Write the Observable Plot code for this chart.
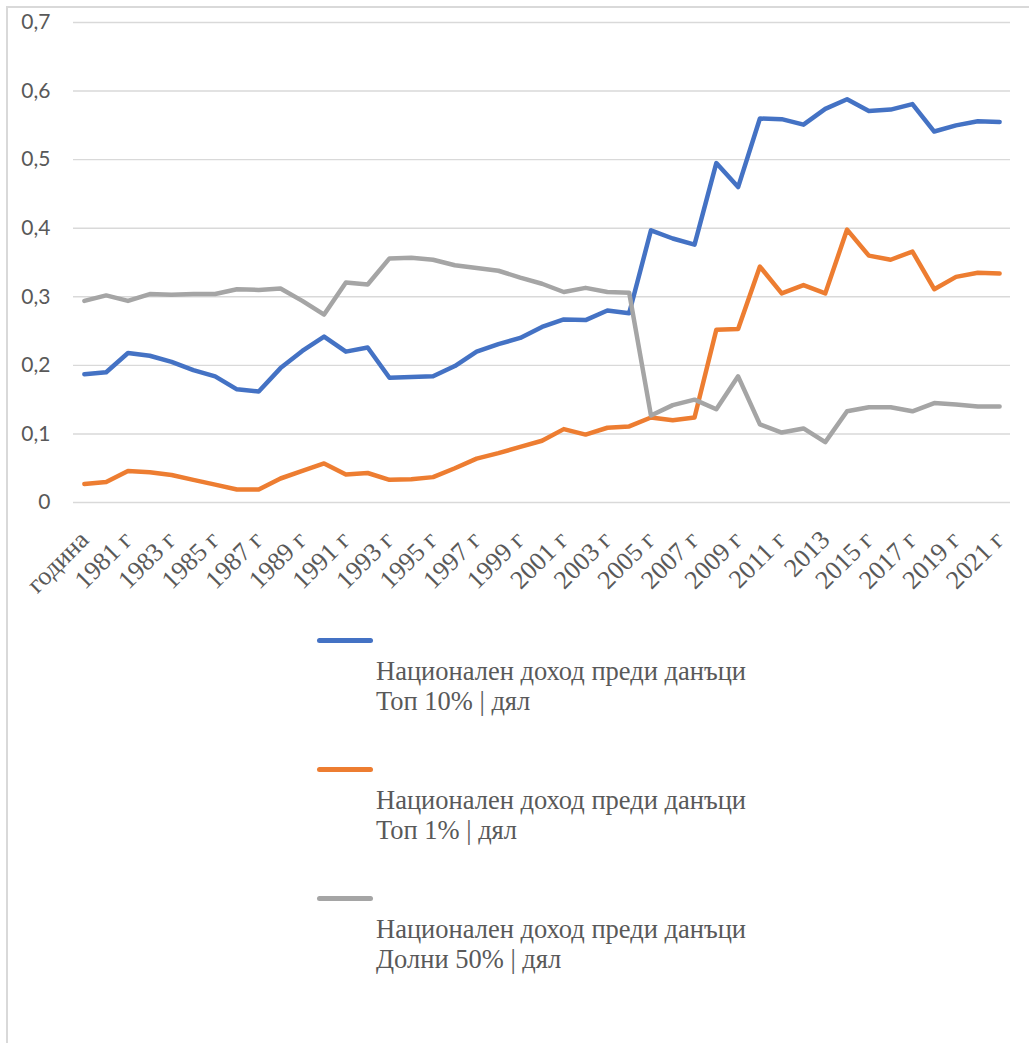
<!DOCTYPE html>
<html><head><meta charset="utf-8">
<script src="https://cdn.jsdelivr.net/npm/d3@7"></script>
<script src="https://cdn.jsdelivr.net/npm/@observablehq/plot@0.6"></script>
<style>
html,body{margin:0;padding:0;background:#fff;overflow:hidden;width:1029px;height:1043px}
#frame{position:absolute;left:6px;top:6px;width:1100px;height:1100px;border:2px solid #d9d9d9;box-sizing:border-box}
#chart{position:absolute;left:0;top:0}
.leg{position:absolute;left:317px;font-family:"Liberation Serif","Times New Roman",serif;font-size:26.5px;color:#595959}
.leg .sw{position:absolute;left:0;width:56px;height:5px;border-radius:3px}
.leg .tx{position:absolute;left:59px;line-height:30px;white-space:nowrap}
</style></head><body>
<div id="frame"></div>
<div id="chart"></div>
<div id="legend"></div>
<script>
const categories = ["година","1980 г","1981 г","1982 г","1983 г","1984 г","1985 г","1986 г","1987 г","1988 г",
  "1989 г","1990 г","1991 г","1992 г","1993 г","1994 г","1995 г","1996 г","1997 г","1998 г",
  "1999 г","2000 г","2001 г","2002 г","2003 г","2004 г","2005 г","2006 г","2007 г","2008 г",
  "2009 г","2010 г","2011 г","2012 г","2013","2014 г","2015 г","2016 г","2017 г","2018 г",
  "2019 г","2020 г","2021 г"];
const top10 = [0.187,0.190,0.218,0.214,0.205,0.193,0.184,0.165,0.162,0.196,
  0.221,0.242,0.220,0.226,0.182,0.183,0.184,0.199,0.220,0.231,
  0.240,0.256,0.267,0.266,0.280,0.276,0.397,0.385,0.376,0.495,
  0.460,0.560,0.559,0.551,0.574,0.588,0.571,0.573,0.581,0.541,
  0.550,0.556,0.555];
const top1 = [0.027,0.030,0.046,0.044,0.040,0.033,0.026,0.019,0.019,0.035,
  0.046,0.057,0.041,0.043,0.033,0.034,0.037,0.050,0.064,0.072,
  0.081,0.090,0.107,0.099,0.109,0.111,0.124,0.120,0.124,0.252,
  0.253,0.344,0.305,0.317,0.305,0.398,0.360,0.354,0.366,0.311,
  0.329,0.335,0.334];
const bottom50 = [0.294,0.302,0.294,0.304,0.303,0.304,0.304,0.311,0.310,0.312,
  0.294,0.274,0.321,0.318,0.356,0.357,0.354,0.346,0.342,0.338,
  0.328,0.319,0.307,0.313,0.307,0.306,0.127,0.142,0.150,0.136,
  0.184,0.114,0.102,0.108,0.088,0.133,0.139,0.139,0.133,0.145,
  0.143,0.140,0.140];
const seriesNames = ["Национален доход преди данъци\nТоп 10% | дял",
  "Национален доход преди данъци\nТоп 1% | дял",
  "Национален доход преди данъци\nДолни 50% | дял"];
const seriesColors = ["#4472C4","#ED7D31","#A5A5A5"];
const yTicks = [0,0.1,0.2,0.3,0.4,0.5,0.6,0.7];
const xTickLabels = categories.filter((d,i)=>i%2===0);

const seriesValues = [top10, top1, bottom50];
const rows = [];
seriesValues.forEach((vals,s)=>vals.forEach((v,i)=>rows.push({cat:categories[i], value:v, series:seriesNames[s]})));

const fmt = d => d===0 ? "0" : d.toFixed(1).replace(".", ",");

const chart = Plot.plot({
  width: 1029,
  height: 620,
  marginLeft: 73,
  marginRight: 19,
  marginTop: 22,
  marginBottom: 118,
  style: {background:"transparent", overflow:"visible"},
  x: {type:"point", domain: categories, padding: 0.5},
  y: {domain:[0,0.7]},
  color: {domain: seriesNames, range: seriesColors},
  marks: [
    Plot.gridY(yTicks, {stroke:"#d9d9d9", strokeOpacity:1, strokeWidth:1.4}),
    Plot.axisY(yTicks, {tickSize:0, tickPadding:23, tickFormat:fmt, fontSize:21, fill:"#595959", label:null}),
    Plot.axisX(xTickLabels, {tickSize:0, tickPadding:33, tickRotate:-45, fontSize:26, fill:"#595959", label:null}),
    Plot.line(rows, {x:"cat", y:"value", z:"series", stroke:"series", strokeWidth:4.5, strokeLinejoin:"round", strokeLinecap:"round"})
  ]
});
d3.select(chart).selectAll('[aria-label="y-axis tick label"]').attr("font-family","Lato, 'Open Sans', sans-serif").selectAll("text").attr("font-family","Lato, 'Open Sans', sans-serif");
d3.select(chart).selectAll('[aria-label="x-axis tick label"]').attr("font-family","'Liberation Serif','Times New Roman',serif").selectAll("text").attr("font-family","'Liberation Serif','Times New Roman',serif");
document.getElementById("chart").appendChild(chart);

const legend = document.getElementById("legend");
seriesNames.forEach((name,i)=>{
  const cy = 640 + 129*i;
  const d = document.createElement("div");
  d.className = "leg";
  d.style.top = "0px";
  const sw = document.createElement("div");
  sw.className = "sw";
  sw.style.top = (cy-2.5)+"px";
  sw.style.background = seriesColors[i];
  d.appendChild(sw);
  const lines = name.split("\n");
  lines.forEach((ln,j)=>{
    const t = document.createElement("div");
    t.className = "tx";
    t.style.top = (cy + 16 + 30*j) + "px";
    t.textContent = ln;
    d.appendChild(t);
  });
  legend.appendChild(d);
});
</script></body></html>
